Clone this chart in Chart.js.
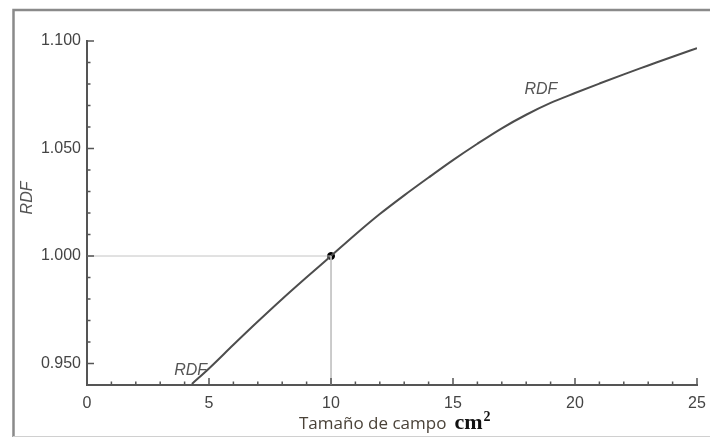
<!DOCTYPE html>
<html>
<head>
<meta charset="utf-8">
<script src="https://cdn.jsdelivr.net/npm/chart.js@4/dist/chart.umd.min.js"></script>
<style>
  html, body { margin: 0; padding: 0; background: #fff; }
</style>
</head>
<body>
<canvas id="rdf-chart" width="710" height="438"></canvas>
<script>
// data
const fieldSize = [4.3, 5, 6, 7, 8, 9, 10, 11, 12, 13, 14, 15, 16, 17, 18, 19, 20, 21, 22, 23, 24, 25];
const rdfValues = [0.9405, 0.9477, 0.9587, 0.9695, 0.9800, 0.9901, 1.0000, 1.0100, 1.0195, 1.0282, 1.0365, 1.0446,
  1.0522, 1.0594, 1.0657, 1.0712, 1.0758, 1.0802, 1.0845, 1.0886, 1.0927, 1.0967];

// reference point at 10 cm2
const refX = [0, 10, 10];
const refY = [1.0, 1.0, 0.94];

// tick values
const xTickValues = [0, 1, 2, 3, 4, 5, 6, 7, 8, 9, 10, 11, 12, 13, 14, 15, 16, 17, 18, 19, 20, 21, 22, 23, 24, 25];
const xTickLabels = ["0", "", "", "", "", "5", "", "", "", "", "10", "", "", "", "", "15", "", "", "", "", "20", "", "", "", "", "25"];
const yTickValues = [0.95, 0.96, 0.97, 0.98, 0.99, 1.00, 1.01, 1.02, 1.03, 1.04, 1.05, 1.06, 1.07, 1.08, 1.09, 1.10];
const yTickLabels = ["0.950", "", "", "", "", "1.000", "", "", "", "", "1.050", "", "", "", "", "1.100"];

const axisColor = "#555555";
const textColor = "#444444";

const canvas = document.querySelector("#rdf-chart");
const ctx = canvas.getContext("2d");

// frame, inward ticks, curve labels and axis titles
const decor = {
  id: "decor",
  beforeDraw(chart) {
    const c = chart.ctx;
    c.save();
    c.strokeStyle = "#8a8a8a";
    c.lineWidth = 2.5;
    c.beginPath();
    c.moveTo(13.5, 437);
    c.lineTo(13.5, 10);
    c.lineTo(712, 10);
    c.stroke();
    c.strokeStyle = "#d0d0d0";
    c.lineWidth = 1;
    c.beginPath();
    c.moveTo(13, 436.5);
    c.lineTo(712, 436.5);
    c.stroke();
    c.restore();
  },
  afterDraw(chart) {
    const c = chart.ctx;
    const xs = chart.scales.x;
    const ys = chart.scales.y;
    c.save();
    c.strokeStyle = axisColor;
    c.lineWidth = 1.5;
    c.beginPath();
    xs.ticks.forEach((t, i) => {
      const px = xs.getPixelForValue(t.value);
      const len = xTickLabels[i] ? 7 : 3.5;
      c.moveTo(px, ys.bottom);
      c.lineTo(px, ys.bottom - len);
    });
    ys.ticks.forEach((t, i) => {
      const py = ys.getPixelForValue(t.value);
      const len = yTickLabels[i] ? 7 : 3.5;
      c.moveTo(xs.left, py);
      c.lineTo(xs.left + len, py);
    });
    c.stroke();

    // curve labels
    c.fillStyle = "#555555";
    c.font = "italic 16px 'Liberation Sans', Arial, sans-serif";
    c.textAlign = "center";
    c.textBaseline = "middle";
    c.fillText("RDF", xs.getPixelForValue(4.25), ys.getPixelForValue(0.9468));
    c.fillText("RDF", xs.getPixelForValue(18.6), ys.getPixelForValue(1.0772));

    // y axis title
    c.save();
    c.translate(28, ys.getPixelForValue(1.027));
    c.rotate(-Math.PI / 2);
    c.fillText("RDF", 0, 0);
    c.restore();

    // x axis title
    const t1 = "Tamaño de campo";
    c.font = "17px 'Open Sans', sans-serif";
    c.fillStyle = "#4a4238";
    c.textAlign = "left";
    c.textBaseline = "alphabetic";
    const w1 = c.measureText(t1).width;
    const x0 = 299;
    c.fillText(t1, x0, 429);
    c.fillStyle = "#111111";
    c.font = "bold 22px 'Liberation Serif', serif";
    const w2 = c.measureText("cm").width;
    c.fillText("cm", x0 + w1 + 8, 429);
    c.font = "bold 14px 'Liberation Serif', serif";
    c.fillText("2", x0 + w1 + 8 + w2 + 1, 421);
    c.restore();
  }
};

new Chart(ctx, {
  type: "scatter",
  data: {
    datasets: [
      {
        // thin guide lines to the point at 10
        data: refX.map((x, i) => ({ x: x, y: refY[i] })),
        showLine: true,
        borderColor: "#c4c4c4",
        borderWidth: 1,
        pointRadius: 0,
      },
      {
        label: "RDF",
        data: fieldSize.map((x, i) => ({ x: x, y: rdfValues[i] })),
        showLine: true,
        borderColor: "#4d4d4d",
        borderWidth: 2,
        cubicInterpolationMode: "monotone",
        pointRadius: 0,
      },
      {
        data: [{ x: refX[1], y: refY[1] }],
        pointRadius: 3.5,
        pointBackgroundColor: "#000000",
        pointBorderColor: "#000000",
      },
    ],
  },
  plugins: [decor],
  options: {
    responsive: false,
    animation: false,
    layout: { padding: { left: 0, right: 13, top: 41, bottom: 0 } },
    plugins: {
      legend: { display: false },
      tooltip: { enabled: false },
    },
    scales: {
      x: {
        type: "linear",
        min: 0,
        max: 25,
        afterBuildTicks: (scale) => {
          scale.ticks = xTickValues.map((v) => ({ value: v }));
        },
        afterFit: (scale) => {
          scale.height = 53;
          scale.paddingLeft = 0;
          scale.paddingRight = 0;
        },
        grid: { display: false, drawTicks: false },
        border: { display: true, color: axisColor, width: 2 },
        ticks: {
          autoSkip: false,
          maxRotation: 0,
          padding: 9,
          color: textColor,
          font: { family: "'Liberation Sans', Arial, sans-serif", size: 16 },
          callback: (value, index) => xTickLabels[index],
        },
      },
      y: {
        min: 0.94,
        max: 1.1,
        afterBuildTicks: (scale) => {
          scale.ticks = yTickValues.map((v) => ({ value: v }));
        },
        afterFit: (scale) => {
          scale.width = 87;
          scale.paddingTop = 0;
          scale.paddingBottom = 0;
        },
        grid: { display: false, drawTicks: false },
        border: { display: true, color: axisColor, width: 2 },
        ticks: {
          autoSkip: false,
          padding: 6,
          color: textColor,
          font: { family: "'Liberation Sans', Arial, sans-serif", size: 16 },
          callback: (value, index) => yTickLabels[index],
        },
      },
    },
  },
});
</script>
</body>
</html>
